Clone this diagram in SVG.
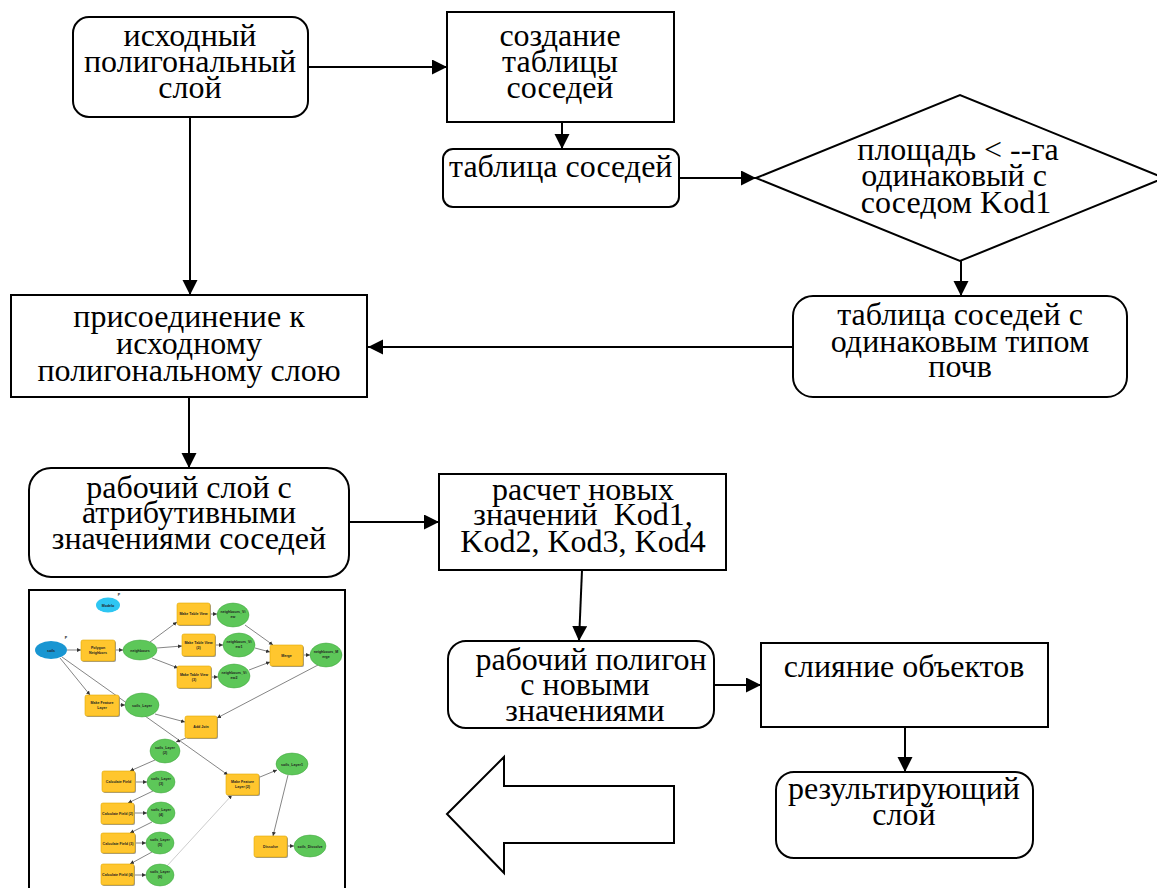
<svg xmlns="http://www.w3.org/2000/svg" width="1157" height="888" viewBox="0 0 1157 888">
<style>
.b{fill:#fff;stroke:#000;stroke-width:2}
.t{font-family:"Liberation Serif","Times New Roman",serif;font-size:32px;text-anchor:middle;fill:#000}
.c{fill:none;stroke:#000;stroke-width:2}
.mt{fill:#FFC62E;stroke:#E0A800;stroke-width:0.6}
.ms{fill:#9a9a9a}
.mg{fill:#5DC759;stroke:#3FA23C;stroke-width:0.5}
.ml{fill:none;stroke:#333;stroke-width:0.6}
.mx{font-family:"Liberation Sans",Arial,sans-serif;font-size:3.6px;font-weight:bold;text-anchor:middle;fill:#222}
</style>
<defs>
<marker id="ah" markerUnits="userSpaceOnUse" markerWidth="16" markerHeight="16" refX="15" refY="7.5" orient="auto">
<path d="M0,0 L15,7.5 L0,15 z" fill="#000"/>
</marker>
<marker id="ma" markerUnits="userSpaceOnUse" markerWidth="5" markerHeight="5" refX="4" refY="2" orient="auto">
<path d="M0,0 L4,2 L0,4 z" fill="#333"/>
</marker>
</defs>
<rect width="1157" height="888" fill="#fff"/>

<g id="connectors">
<line class="c" x1="308" y1="67" x2="447" y2="67" marker-end="url(#ah)"/>
<line class="c" x1="190" y1="117" x2="190" y2="295" marker-end="url(#ah)"/>
<line class="c" x1="562" y1="122" x2="562" y2="149" marker-end="url(#ah)"/>
<line class="c" x1="679" y1="178" x2="756" y2="178" marker-end="url(#ah)"/>
<line class="c" x1="961" y1="261" x2="961" y2="296" marker-end="url(#ah)"/>
<line class="c" x1="793" y1="347" x2="368" y2="347" marker-end="url(#ah)"/>
<line class="c" x1="189" y1="397" x2="189" y2="468" marker-end="url(#ah)"/>
<line class="c" x1="349" y1="522" x2="439" y2="522" marker-end="url(#ah)"/>
<line class="c" x1="582" y1="570" x2="579" y2="641" marker-end="url(#ah)"/>
<line class="c" x1="714" y1="685" x2="761" y2="685" marker-end="url(#ah)"/>
<line class="c" x1="905" y1="727" x2="905" y2="772" marker-end="url(#ah)"/>
</g>

<g id="n1"><rect class="b" x="73" y="17" width="235" height="100" rx="16"/>
<text class="t" x="190" y="46">исходный</text><text class="t" x="190" y="72">полигональный</text><text class="t" x="190" y="98">слой</text></g>

<g id="n2"><rect class="b" x="447" y="12" width="227" height="110"/>
<text class="t" x="560" y="46">создание</text><text class="t" x="560" y="72">таблицы</text><text class="t" x="560" y="98">соседей</text></g>

<g id="n3"><rect class="b" x="443" y="149" width="236" height="58" rx="10"/>
<text class="t" x="449" y="177" style="text-anchor:start">таблица соседей</text></g>

<g id="n4"><polygon class="b" points="756,178 960,95 1164,178 960,261"/>
<text class="t" x="958" y="160">площадь &lt; --га</text><text class="t" x="954" y="186">одинаковый с</text><text class="t" x="956" y="213">соседом Kod1</text></g>

<g id="n5"><rect class="b" x="793" y="296" width="334" height="101" rx="20"/>
<text class="t" x="960" y="325">таблица соседей с</text><text class="t" x="960" y="352">одинаковым типом</text><text class="t" x="960" y="377">почв</text></g>

<g id="n6"><rect class="b" x="11" y="295" width="356" height="102"/>
<text class="t" x="189" y="327">присоединение к</text><text class="t" x="189" y="354">исходному</text><text class="t" x="189" y="381">полигональному слою</text></g>

<g id="n7"><rect class="b" x="29" y="468" width="320" height="109" rx="22"/>
<text class="t" x="189" y="498">рабочий слой с</text><text class="t" x="189" y="523">атрибутивными</text><text class="t" x="189" y="549">значениями соседей</text></g>

<g id="n8"><rect class="b" x="439" y="474" width="287" height="96"/>
<text class="t" x="583" y="500">расчет новых</text><text class="t" x="583" y="525" xml:space="preserve">значений  Kod1,</text><text class="t" x="583" y="552">Kod2, Kod3, Kod4</text></g>

<g id="n9"><rect class="b" x="448" y="641" width="266" height="87" rx="18"/>
<text class="t" x="591" y="670">рабочий полигон</text><text class="t" x="585" y="695">с новыми</text><text class="t" x="585" y="721">значениями</text></g>

<g id="n10"><rect class="b" x="761" y="643" width="287" height="84"/>
<text class="t" x="904" y="677">слияние объектов</text></g>

<g id="n11"><rect class="b" x="776" y="772" width="257" height="86" rx="18"/>
<text class="t" x="904" y="799">результирующий</text><text class="t" x="904" y="825">слой</text></g>

<g id="bigarrow"><polygon class="b" points="447,814 504,757 504,786 674,786 674,843 504,843 504,873"/></g>

<g id="model">
<rect x="29" y="590" width="316" height="302" fill="#fff" stroke="#000" stroke-width="2"/>
<g id="model-links">
<line class="ml" x1="67" y1="650" x2="81" y2="650" marker-end="url(#ma)"/>
<line class="ml" x1="115" y1="650" x2="123" y2="650" marker-end="url(#ma)"/>
<line class="ml" x1="150" y1="642" x2="177" y2="622" marker-end="url(#ma)"/>
<line class="ml" x1="157" y1="648" x2="182" y2="646" marker-end="url(#ma)"/>
<line class="ml" x1="152" y1="658" x2="178" y2="668" marker-end="url(#ma)"/>
<line class="ml" x1="210" y1="614" x2="217" y2="614" marker-end="url(#ma)"/>
<line class="ml" x1="215" y1="645" x2="223" y2="645" marker-end="url(#ma)"/>
<line class="ml" x1="211" y1="677" x2="218" y2="677" marker-end="url(#ma)"/>
<line class="ml" x1="245" y1="625" x2="273" y2="645" marker-end="url(#ma)"/>
<line class="ml" x1="255" y1="648" x2="270" y2="652" marker-end="url(#ma)"/>
<line class="ml" x1="249" y1="670" x2="270" y2="662" marker-end="url(#ma)"/>
<line class="ml" x1="303" y1="655" x2="310" y2="655" marker-end="url(#ma)"/>
<line class="ml" x1="318" y1="665" x2="217" y2="718" marker-end="url(#ma)"/>
<line class="ml" x1="60" y1="658" x2="90" y2="695" marker-end="url(#ma)"/>
<line class="ml" x1="119" y1="705" x2="125" y2="705" marker-end="url(#ma)"/>
<line class="ml" x1="155" y1="714" x2="185" y2="722" marker-end="url(#ma)"/>
<line class="ml" x1="62" y1="657" x2="228" y2="775" marker-end="url(#ma)"/>
<line class="ml" x1="186" y1="738" x2="176" y2="742" marker-end="url(#ma)"/>
<line class="ml" x1="155" y1="760" x2="130" y2="771" marker-end="url(#ma)"/>
<line class="ml" x1="135" y1="782" x2="147" y2="782" marker-end="url(#ma)"/>
<line class="ml" x1="153" y1="791" x2="128" y2="803" marker-end="url(#ma)"/>
<line class="ml" x1="134" y1="813" x2="147" y2="813" marker-end="url(#ma)"/>
<line class="ml" x1="152" y1="822" x2="130" y2="833" marker-end="url(#ma)"/>
<line class="ml" x1="135" y1="843" x2="146" y2="843" marker-end="url(#ma)"/>
<line class="ml" x1="152" y1="852" x2="130" y2="864" marker-end="url(#ma)"/>
<line class="ml" x1="134" y1="875" x2="146" y2="875" marker-end="url(#ma)"/>
<line x1="167" y1="866" x2="232" y2="795" stroke="#999" stroke-width="0.5" marker-end="url(#ma)"/>
<line class="ml" x1="260" y1="777" x2="277" y2="770" marker-end="url(#ma)"/>
<line class="ml" x1="288" y1="775" x2="273" y2="836" marker-end="url(#ma)"/>
<line class="ml" x1="287" y1="846" x2="294" y2="846" marker-end="url(#ma)"/>
</g>
<g id="m-modelo"><ellipse cx="108" cy="605" rx="12" ry="7.5" fill="#2EC6F2"/><text class="mx" x="108" y="606.5">Modelo</text><text class="mx" x="119" y="596">P</text></g>
<g id="m-soils"><ellipse cx="51" cy="650" rx="16" ry="9" fill="#1996D2"/><text class="mx" x="51" y="651.5">soils</text><text class="mx" x="66" y="639">P</text></g>
<g id="m-pn"><rect class="ms" x="82" y="641" width="34" height="21" rx="2"/><rect class="mt" x="81" y="640" width="34" height="21" rx="2"/><text class="mx" x="98" y="649">Polygon</text><text class="mx" x="98" y="654">Neighbors</text></g>
<g id="m-nb"><ellipse class="mg" cx="140" cy="650" rx="17" ry="10"/><text class="mx" x="140" y="651.5">neighbours</text></g>
<g id="m-mtv"><rect class="ms" x="178" y="604" width="33" height="22" rx="2"/><rect class="mt" x="177" y="603" width="33" height="22" rx="2"/><text class="mx" x="193.5" y="615">Make Table View</text></g>
<g id="m-v0"><ellipse class="mg" cx="233" cy="615" rx="16" ry="12"/><text class="mx" x="233" y="613">neighbours_Vi</text><text class="mx" x="233" y="618">ew</text></g>
<g id="m-mtv2"><rect class="ms" x="183" y="635" width="33" height="22" rx="2"/><rect class="mt" x="182" y="634" width="33" height="22" rx="2"/><text class="mx" x="198.5" y="644">Make Table View</text><text class="mx" x="198.5" y="649">(2)</text></g>
<g id="m-v1"><ellipse class="mg" cx="239" cy="645" rx="16" ry="12"/><text class="mx" x="239" y="643">neighbours_Vi</text><text class="mx" x="239" y="648">ew1</text></g>
<g id="m-mtv3"><rect class="ms" x="178" y="667" width="34" height="22" rx="2"/><rect class="mt" x="177" y="666" width="34" height="22" rx="2"/><text class="mx" x="194" y="676">Make Table View</text><text class="mx" x="194" y="681">(3)</text></g>
<g id="m-v2"><ellipse class="mg" cx="234" cy="676" rx="16" ry="12"/><text class="mx" x="234" y="674">neighbours_Vi</text><text class="mx" x="234" y="679">ew2</text></g>
<g id="m-merge"><rect class="ms" x="271" y="646" width="33" height="21" rx="2"/><rect class="mt" x="270" y="645" width="33" height="21" rx="2"/><text class="mx" x="286.5" y="657">Merge</text></g>
<g id="m-nm"><ellipse class="mg" cx="326" cy="655" rx="16" ry="12"/><text class="mx" x="326" y="653">neighbours_M</text><text class="mx" x="326" y="658">erge</text></g>
<g id="m-mfl"><rect class="ms" x="86" y="696" width="34" height="21" rx="2"/><rect class="mt" x="85" y="695" width="34" height="21" rx="2"/><text class="mx" x="102" y="704">Make Feature</text><text class="mx" x="102" y="709">Layer</text></g>
<g id="m-sl"><ellipse class="mg" cx="142" cy="705" rx="17" ry="12"/><text class="mx" x="142" y="706.5">soils_Layer</text></g>
<g id="m-aj"><rect class="ms" x="186" y="717" width="32" height="22" rx="2"/><rect class="mt" x="185" y="716" width="32" height="22" rx="2"/><text class="mx" x="201" y="728">Add Join</text></g>
<g id="m-sl2"><ellipse class="mg" cx="165" cy="751" rx="15" ry="12"/><text class="mx" x="165" y="749">soils_Layer</text><text class="mx" x="165" y="754">(2)</text></g>
<g id="m-cf"><rect class="ms" x="103" y="772" width="33" height="21" rx="2"/><rect class="mt" x="102" y="771" width="33" height="21" rx="2"/><text class="mx" x="118.5" y="783">Calculate Field</text></g>
<g id="m-sl3"><ellipse class="mg" cx="161" cy="782" rx="14" ry="11"/><text class="mx" x="161" y="780">soils_Layer</text><text class="mx" x="161" y="785">(3)</text></g>
<g id="m-cf2"><rect class="ms" x="102" y="804" width="33" height="21" rx="2"/><rect class="mt" x="101" y="803" width="33" height="21" rx="2"/><text class="mx" x="117.5" y="815">Calculate Field (2)</text></g>
<g id="m-sl4"><ellipse class="mg" cx="161" cy="813" rx="14" ry="11"/><text class="mx" x="161" y="811">soils_Layer</text><text class="mx" x="161" y="816">(4)</text></g>
<g id="m-cf3"><rect class="ms" x="102" y="834" width="34" height="20" rx="2"/><rect class="mt" x="101" y="833" width="34" height="20" rx="2"/><text class="mx" x="118" y="844.5">Calculate Field (3)</text></g>
<g id="m-sl5"><ellipse class="mg" cx="160" cy="843" rx="14" ry="11"/><text class="mx" x="160" y="841">soils_Layer</text><text class="mx" x="160" y="846">(5)</text></g>
<g id="m-cf4"><rect class="ms" x="102" y="865" width="33" height="21" rx="2"/><rect class="mt" x="101" y="864" width="33" height="21" rx="2"/><text class="mx" x="117.5" y="876">Calculate Field (4)</text></g>
<g id="m-sl6"><ellipse class="mg" cx="160" cy="875" rx="14" ry="11"/><text class="mx" x="160" y="873">soils_Layer</text><text class="mx" x="160" y="878">(6)</text></g>
<g id="m-mfl2"><rect class="ms" x="227" y="775" width="33" height="21" rx="2"/><rect class="mt" x="226" y="774" width="33" height="21" rx="2"/><text class="mx" x="242.5" y="783">Make Feature</text><text class="mx" x="242.5" y="788">Layer (2)</text></g>
<g id="m-sl1"><ellipse class="mg" cx="292" cy="764" rx="16" ry="11"/><text class="mx" x="292" y="765.5">soils_Layer1</text></g>
<g id="m-dis"><rect class="ms" x="255" y="837" width="33" height="21" rx="2"/><rect class="mt" x="254" y="836" width="33" height="21" rx="2"/><text class="mx" x="270.5" y="848">Dissolve</text></g>
<g id="m-sd"><ellipse class="mg" cx="310" cy="846" rx="16" ry="11"/><text class="mx" x="310" y="847.5">soils_Dissolve</text></g>
</g>
</svg>
